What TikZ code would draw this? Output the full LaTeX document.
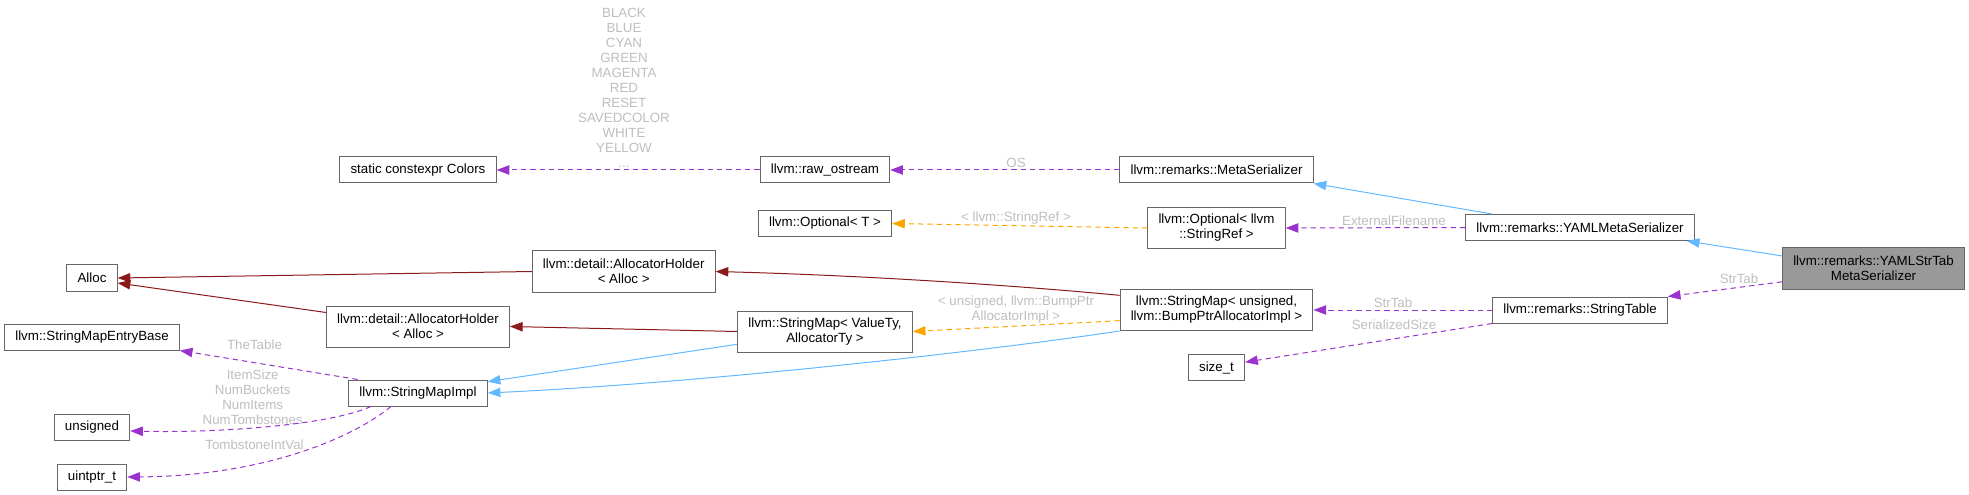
\documentclass[tikz,border=0pt]{standalone}
\usepackage{fontspec}
\setmainfont{Liberation Sans}
\usepackage{tikz}
\usetikzlibrary{arrows.meta}
\definecolor{cUse}{HTML}{9A32CD}
\definecolor{cInh}{HTML}{63B8FF}
\definecolor{cOwn}{HTML}{8B1A1A}
\definecolor{cInst}{HTML}{FFA500}
\definecolor{cFrame}{HTML}{666666}
\definecolor{cFocus}{HTML}{999999}
\definecolor{cTag}{HTML}{BEBEBE}

\tikzset{
  cls/.style={draw=cFrame, fill=white, line width=0.75pt, inner xsep=8pt, inner ysep=0pt,
    minimum height=19.5pt, align=center, font=\fontsize{10}{11.25}\selectfont},
  cls2/.style={cls, minimum height=30.75pt},
  tag/.style={text=cTag, inner sep=0pt, align=center, font=\fontsize{10}{11.25}\selectfont},
  link/.style={line width=0.75pt, -{Triangle[length=9.5pt,width=7pt]}},
  uses/.style={link, color=cUse, dash pattern=on 4pt off 3pt},
  inst/.style={link, color=cInst, dash pattern=on 4pt off 3pt},
  inh/.style={link, color=cInh},
  own/.style={link, color=cOwn},
}

\begin{document}
\begin{tikzpicture}[x=0.75pt, y=-0.75pt]
    \useasboundingbox (0,0) rectangle (1969,495);
    \node[cls] at(418,170)(colors){static constexpr Colors};
    \node[cls] at(825,170)(rawos){llvm::raw\_ostream};
    \node[cls] at(1216.5,170)(meta){llvm::remarks::MetaSerializer};
    \node[cls] at(825,223.5)(optT){llvm::Optional< T >};
    \node[cls2] at(1216.5,228)(optref){llvm::Optional< llvm\\::StringRef >};
    \node[cls] at(1580,227.5)(yamlmeta){llvm::remarks::YAMLMetaSerializer};
    \node[cls2, fill=cFocus] at(1873.5,268.5)(strtabms){llvm::remarks::YAMLStrTab\\MetaSerializer};
    \node[cls] at(1580,310)(strtable){llvm::remarks::StringTable};
    \node[cls2] at(1216.5,310)(smuns){llvm::StringMap< unsigned,\\ llvm::BumpPtrAllocatorImpl >};
    \node[cls] at(1216.5,367.5)(sizet){size\_t};
    \node[cls2] at(825,331.5)(smvt){llvm::StringMap< ValueTy,\\AllocatorTy >};
    \node[cls2] at(623.7,271.5)(ahup){llvm::detail::AllocatorHolder\\< Alloc >};
    \node[cls2] at(418,326.5)(ahlow){llvm::detail::AllocatorHolder\\< Alloc >};
    \node[cls] at(92,278)(alloc){Alloc};
    \node[cls] at(92,337)(smeb){llvm::StringMapEntryBase};
    \node[cls] at(418,393)(smimpl){llvm::StringMapImpl};
    \node[cls] at(92,427)(uns){unsigned};
    \node[cls] at(92,477)(uptr){uintptr\_t};
    %
    \node[tag, anchor=north] at(624,8)(enumtag){BLACK\\BLUE\\CYAN\\GREEN\\MAGENTA\\RED\\RESET\\SAVEDCOLOR\\WHITE\\YELLOW\\...};
    \node[tag] at(1016,163)(ostag){OS};
    \node[tag] at(1016,218)(reftag){< llvm::StringRef >};
    \node[tag] at(1394,221)(exttag){ExternalFilename};
    \node[tag] at(1739,279)(strtag1){StrTab};
    \node[tag] at(1393,303)(strtag2){StrTab};
    \node[tag] at(1394,325)(sizetag){SerializedSize};
    \node[tag] at(1016,309.5)(bumptag){< unsigned, llvm::BumpPtr\\AllocatorImpl >};
    \node[tag] at(254.5,345)(tabletag){TheTable};
    \node[tag] at(252.7,397.5)(counttag){ItemSize\\NumBuckets\\NumItems\\NumTombstones};
    \node[tag] at(254.5,445)(tombtag){TombstoneIntVal};
    %
    \draw[uses] (rawos.west) -- (colors.east);
    \draw[uses] (meta.west) -- (rawos.east);
    \draw[uses] (yamlmeta.west) -- (optref.east);
    \draw[uses] ([yshift=-10pt]strtabms.west) -- (strtable.north east);
    \draw[uses] (strtable.west) -- (smuns.east);
    \draw[uses] (strtable.south west) -- ([yshift=4pt]sizet.east);
    \draw[uses] ([xshift=7pt]smimpl.north west) -- (smeb.south east);
    \draw[uses] ([xshift=17pt]smimpl.south west) .. controls (330,425) and (220,433) .. ([yshift=-3pt]uns.east);
    \draw[uses] ([xshift=32pt]smimpl.south west) .. controls (350,440) and (260,476) .. (uptr.east);
    %
    \draw[inh] ([xshift=20pt]yamlmeta.north west) -- (meta.south east);
    \draw[inh] ([yshift=9.4pt]strtabms.west) -- ([xshift=-6pt]yamlmeta.south east);
    \draw[inh] ([yshift=-9.6pt]smvt.west) -- ([yshift=8.5pt]smimpl.east);
    \draw[inh] (smuns.south west) .. controls (980,352) and (700,383) .. (smimpl.east);
    %
    \draw[inst] (optref.west) -- (optT.east);
    \draw[inst] ([yshift=-8pt]smuns.west) -- (smvt.east);
    %
    \draw[own] (ahup.west) -- (alloc.east);
    \draw[own] ([yshift=10.5pt]ahlow.west) -- ([yshift=-3.75pt]alloc.east);
    \draw[own] (smvt.west) -- (ahlow.east);
    \draw[own] ([yshift=11pt]smuns.west) .. controls (1000,284) and (850,275) .. (ahup.east);
\end{tikzpicture}
\end{document}
